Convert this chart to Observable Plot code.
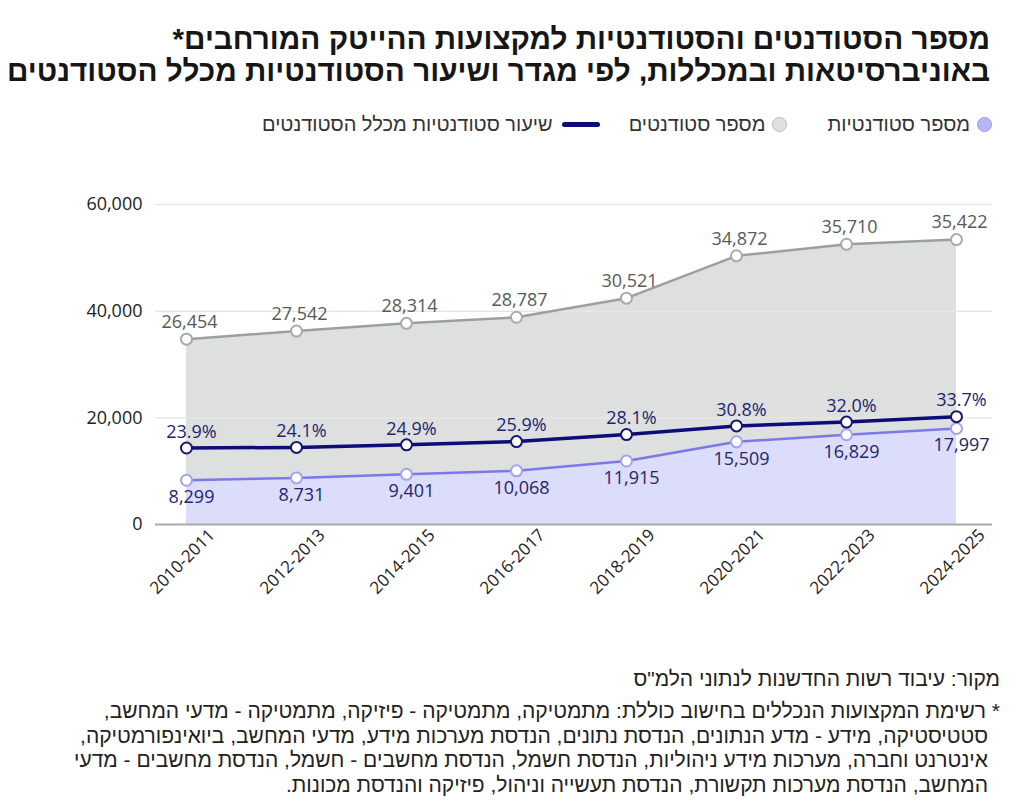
<!DOCTYPE html>
<html>
<head>
<meta charset="utf-8">
<script src="https://cdn.jsdelivr.net/npm/d3@7"></script>
<script src="https://cdn.jsdelivr.net/npm/@observablehq/plot@0.6"></script>
<style>
  html, body { margin: 0; padding: 0; background: #fff; }
  #page { position: relative; width: 1024px; height: 810px; overflow: hidden;
          font-family: "Liberation Sans", "DejaVu Sans", sans-serif; color: #1a1a1a; }
  .rtl { direction: rtl; text-align: right; position: absolute; white-space: nowrap; }
  #title { top: 23px; right: 34px; font-size: 29.7px; font-weight: 700; line-height: 32px; color: #161616; }
  #legend { top: 113px; right: 32px; display: flex; align-items: center; font-size: 20px; color: #333; }
  .item { display: flex; align-items: center; }
  .item:nth-child(1) { margin-left: 40px; }
  .item:nth-child(2) { margin-left: 29px; }
  .sw { display: inline-block; width: 15px; height: 15px; border-radius: 50%; box-sizing: border-box; margin-left: 7px; }
  .ln { display: inline-block; width: 38px; height: 5px; border-radius: 3px; margin-left: 9px; }
  #chart { position: absolute; top: 150px; left: 0; }
  #source { top: 667px; right: 24px; font-size: 21px; color: #222; }
  #note { top: 699px; right: 24px; font-size: 21px; color: #222; line-height: 24.7px; }
  #note .cont { padding-right: 12px; }
</style>
</head>
<body>
<div id="page">
  <div id="title" class="rtl">
    <div>מספר הסטודנטים והסטודנטיות למקצועות ההייטק המורחבים*</div>
    <div>באוניברסיטאות ובמכללות, לפי מגדר ושיעור הסטודנטיות מכלל הסטודנטים</div>
  </div>
  <div id="legend" class="rtl"></div>
  <div id="chart"></div>
  <div id="source" class="rtl">מקור: עיבוד רשות החדשנות לנתוני הלמ"ס</div>
  <div id="note" class="rtl">
    <div>* רשימת המקצועות הנכללים בחישוב כוללת: מתמטיקה, מתמטיקה - פיזיקה, מתמטיקה - מדעי המחשב,</div>
    <div class="cont">סטטיסטיקה, מידע - מדע הנתונים, הנדסת נתונים, הנדסת מערכות מידע, מדעי המחשב, ביואינפורמטיקה,</div>
    <div class="cont">אינטרנט וחברה, מערכות מידע ניהוליות, הנדסת חשמל, הנדסת מחשבים - חשמל, הנדסת מחשבים - מדעי</div>
    <div class="cont">המחשב, הנדסת מערכות תקשורת, הנדסת תעשייה וניהול, פיזיקה והנדסת מכונות.</div>
  </div>
</div>
<script>
// Academic years (every other year shown)
const periods = ["2010-2011", "2012-2013", "2014-2015", "2016-2017", "2018-2019", "2020-2021", "2022-2023", "2024-2025"];
// Male students in extended high-tech fields
const maleStudents = [26454, 27542, 28314, 28787, 30521, 34872, 35710, 35422];
// Female students in extended high-tech fields
const femaleStudents = [8299, 8731, 9401, 10068, 11915, 15509, 16829, 17997];
// Share of women among all students (%)
const femaleShare = [23.9, 24.1, 24.9, 25.9, 28.1, 30.8, 32.0, 33.7];
// Y axis ticks
const yTicks = [0, 20000, 40000, 60000];

const legendItems = [
  {label: "מספר סטודנטיות", kind: "dot", fill: "#b7b7f6", stroke: "#9c9ce9"},
  {label: "מספר סטודנטים", kind: "dot", fill: "#dfe1e1", stroke: "#b9bbbb"},
  {label: "שיעור סטודנטיות מכלל הסטודנטים", kind: "line", fill: "#0c0c7a"}
];

// The share line shares the count axis: 100% sits at the top (60,000)
const shareToAxis = 60000 / 100;

const rows = periods.map((p, i) => ({
  period: p,
  male: maleStudents[i],
  female: femaleStudents[i],
  total: femaleStudents[i] + maleStudents[i],
  share: femaleShare[i],
  shareY: femaleShare[i] * shareToAxis
}));

const legend = document.getElementById("legend");
for (const it of legendItems) {
  const el = document.createElement("div");
  el.className = "item";
  const sw = document.createElement("span");
  if (it.kind === "dot") {
    sw.className = "sw";
    sw.style.background = it.fill;
    sw.style.border = `1.5px solid ${it.stroke}`;
  } else {
    sw.className = "ln";
    sw.style.background = it.fill;
  }
  const tx = document.createElement("span");
  tx.textContent = it.label;
  el.append(sw, tx);
  legend.append(el);
}

const curve = "linear";
const fmt = d3.format(",");

const chart = Plot.plot({
  width: 1024,
  height: 484,
  marginTop: 54,
  marginBottom: 110,
  marginLeft: 155,
  marginRight: 32,
  style: {fontFamily: "'Open Sans', 'Liberation Sans', sans-serif", fontSize: "18px", color: "#222", background: "transparent"},
  x: {type: "point", domain: periods, padding: 0, insetLeft: 29, insetRight: 34, axis: null},
  y: {domain: [0, 60000], ticks: yTicks, tickSize: 0, tickPadding: 13, tickFormat: fmt, label: null},
  marks: [
    Plot.areaY(rows, {x: "period", y: "total", fill: "#dde0df", curve}),
    Plot.ruleY(yTicks.filter(d => d > 0), {stroke: "#e7e7e7", strokeWidth: 1.5}),
    Plot.areaY(rows, {x: "period", y: "female", fill: "#dcdcfb", curve}),
    Plot.ruleY([0], {stroke: "#a9a9a9", strokeWidth: 2}),
    Plot.lineY(rows, {x: "period", y: "total", stroke: "#9ba09e", strokeWidth: 2.5, curve}),
    Plot.lineY(rows, {x: "period", y: "female", stroke: "#7b78ea", strokeWidth: 2.5, curve}),
    Plot.lineY(rows, {x: "period", y: "shareY", stroke: "#0c0c7a", strokeWidth: 3.5, curve}),
    Plot.dot(rows, {x: "period", y: "total", r: 5.5, fill: "white", stroke: "#a9abab", strokeWidth: 2}),
    Plot.dot(rows, {x: "period", y: "female", r: 5.5, fill: "white", stroke: "#a3a3f0", strokeWidth: 2}),
    Plot.dot(rows, {x: "period", y: "shareY", r: 5.5, fill: "white", stroke: "#17176f", strokeWidth: 2}),
    Plot.text(rows, {x: "period", y: "total", text: d => fmt(d.male), dy: -17, dx: 3, fill: "#565b59", fontSize: 18}),
    Plot.text(rows, {x: "period", y: "shareY", text: d => d.share.toFixed(1) + "%", dy: -16, dx: 5, fill: "#1f1f73", fontSize: 18}),
    Plot.text(rows, {x: "period", y: "female", text: d => fmt(d.female), dy: 17, dx: 5, fill: "#25256c", fontSize: 18}),
    Plot.text(periods, {x: d => d, frameAnchor: "bottom", dy: 41, rotate: -45, textAnchor: "middle", fill: "#222", fontSize: 17})
  ]
});
document.getElementById("chart").append(chart);
</script>
</body>
</html>
